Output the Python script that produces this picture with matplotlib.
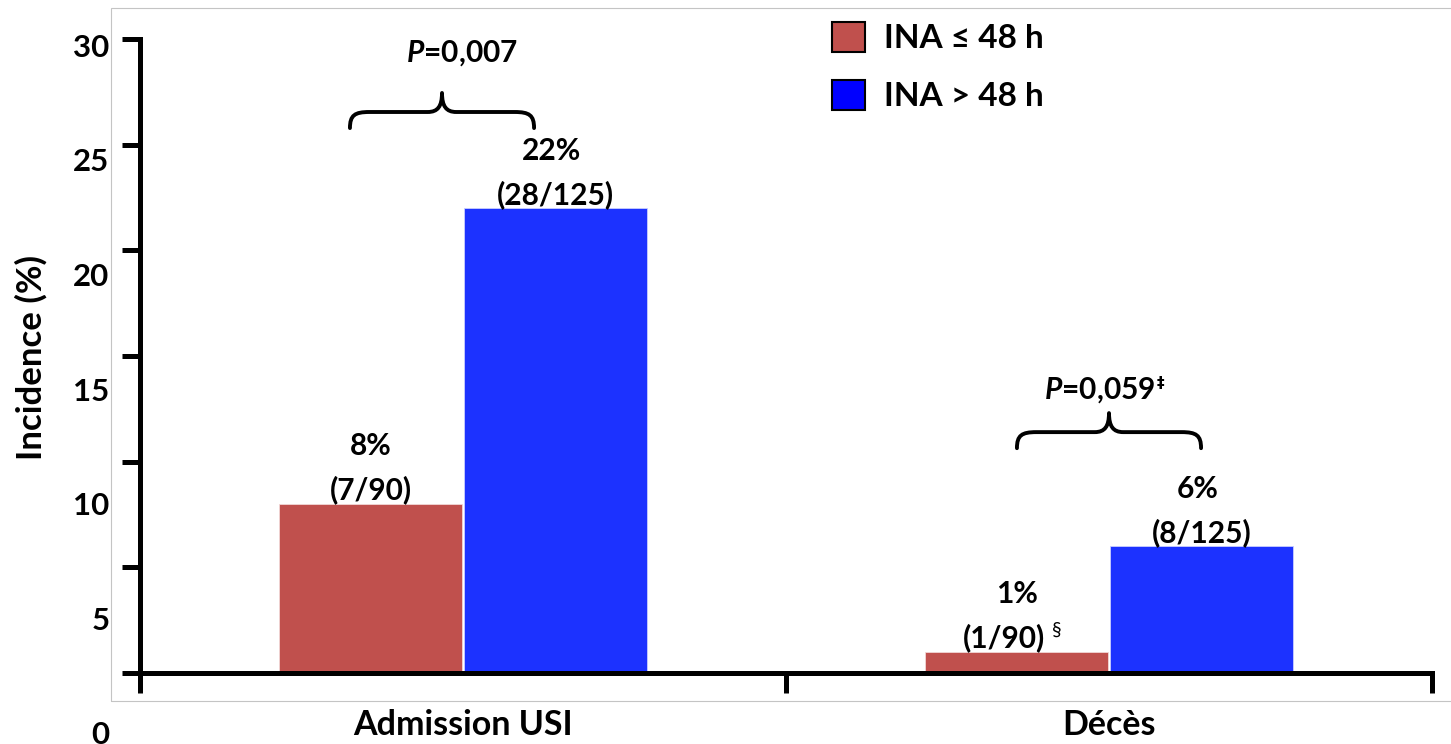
import matplotlib
matplotlib.use("Agg")
import matplotlib.pyplot as plt
from matplotlib.patches import Patch, Rectangle, PathPatch
from matplotlib.path import Path

# data
categories = ["Admission USI", "Décès"]
groups = ["INA ≤ 48 h", "INA > 48 h"]
pct_short = [8, 1]
pct_long = [22, 6]
frac_short = ["(7/90)", "(1/90)"]
frac_long = ["(28/125)", "(8/125)"]
note_short = ["", "§"]
p_values = ["0,007", "0,059"]
p_notes = ["", "‡"]
yticks = [0, 5, 10, 15, 20, 25, 30]

red = "#C0504D"
blue = "#1C32FF"
legend_blue = "#0000FF"

plt.rcParams["font.family"] = ["Lato", "DejaVu Sans"]
plt.rcParams["font.weight"] = "bold"
plt.rcParams["mathtext.fontset"] = "custom"
plt.rcParams["mathtext.it"] = "Lato:italic:bold"
plt.rcParams["mathtext.rm"] = "Lato:bold"

W, H = 1451, 744
fig = plt.figure(figsize=(W / 100, H / 100), dpi=100)

# axes placement (pixels): x=0 at 140, 646 px per category; y=0 at 673, 21.13 px per %
xs, ys = 646.0, 21.13
xlim = (0.0, 2.01)
ylim = (-3.2, 30.5)
L = 140 + xs * xlim[0]
R = 140 + xs * xlim[1]
B = 673 - ys * ylim[0]
T = 673 - ys * ylim[1]
ax = fig.add_axes([L / W, 1 - B / H, (R - L) / W, (B - T) / H])
ax.set_xlim(*xlim)
ax.set_ylim(*ylim)

# light grey frame around the plot
fig.patches.append(Rectangle((111 / W, 1 - 701 / H), 1.0, (701 - 8) / H,
                             transform=fig.transFigure, fill=False,
                             edgecolor="#C4C4C4", lw=0.8))

centers = [0.5, 1.5]
bw = 0.2833
off = 0.1432
ax.bar([c - off for c in centers], pct_short, bw, color=red, edgecolor="#F2D8D7", lw=0.6, zorder=2)
ax.bar([c + off for c in centers], pct_long, bw, color=blue, edgecolor="#C9CEFF", lw=0.6, zorder=2)

lbl_size = 21.5
for i, c in enumerate(centers):
    dx = -9 if note_short[i] else 0
    ax.annotate(f"{pct_short[i]}%", (c - off, pct_short[i]), xytext=(0, 35),
                textcoords="offset points", ha="center", va="baseline", fontsize=lbl_size)
    fr = ax.annotate(frac_short[i], (c - off, pct_short[i]), xytext=(dx, 3.2),
                     textcoords="offset points", ha="center", va="baseline", fontsize=lbl_size)
    if note_short[i]:
        ax.annotate(note_short[i], xy=(1, 0.75), xycoords=fr, xytext=(5, 0),
                    textcoords="offset points", ha="left", va="center",
                    fontsize=14, fontweight="normal")
    ax.annotate(f"{pct_long[i]}%", (c + off, pct_long[i]), xytext=(-3, 35),
                textcoords="offset points", ha="center", va="baseline", fontsize=lbl_size)
    ax.annotate(frac_long[i], (c + off, pct_long[i]), xytext=(0, 3.2),
                textcoords="offset points", ha="center", va="baseline", fontsize=lbl_size)


def brace(ax, xl, xr, y, drop=0.76, rise=0.9, r_end=0.03, r_mid=0.022):
    xm = (xl + xr) / 2
    verts = [
        (xl, y - drop),
        (xl, y - drop * 0.2), (xl + r_end * 0.25, y), (xl + r_end, y),
        (xm - r_mid, y),
        (xm - r_mid * 0.3, y), (xm, y + rise * 0.3), (xm, y + rise),
        (xm, y + rise * 0.3), (xm + r_mid * 0.3, y), (xm + r_mid, y),
        (xr - r_end, y),
        (xr - r_end * 0.25, y), (xr, y - drop * 0.2), (xr, y - drop),
    ]
    codes = [Path.MOVETO] + [Path.CURVE4] * 3 + [Path.LINETO] + [Path.CURVE4] * 6 \
        + [Path.LINETO] + [Path.CURVE4] * 3
    ax.add_patch(PathPatch(Path(verts, codes), fill=False, lw=2.8, color="black",
                           capstyle="round", joinstyle="round", zorder=3))


bracket_y = [26.55, 11.4]
bracket_mid = [0.4675, 1.50]
p_x = [0.498, 1.486]
p_y = [29.34, 13.39]
for i in range(2):
    brace(ax, bracket_mid[i] - 0.1425, bracket_mid[i] + 0.1425, bracket_y[i])
    t = ax.text(p_x[i], p_y[i], r"$\mathit{P}$=" + p_values[i],
                ha="center", va="center", fontsize=lbl_size)
    if p_notes[i]:
        ax.annotate(p_notes[i], xy=(1, 0.72), xycoords=t, xytext=(1, 0),
                    textcoords="offset points", ha="left", va="center",
                    fontsize=11, fontweight="bold", family=["DejaVu Sans"])

# spines
for s in ["top", "right"]:
    ax.spines[s].set_visible(False)
ax.spines["left"].set_bounds(0, 30)
ax.spines["bottom"].set_position(("data", 0))
ax.spines["bottom"].set_bounds(0, 2)
for s in ["left", "bottom"]:
    ax.spines[s].set_linewidth(3.6)
    ax.spines[s].set_capstyle("projecting")

ax.set_yticks(yticks)
ax.tick_params(axis="y", direction="out", length=13, width=3.6, labelleft=False)
ax.set_xticks([0, 1, 2])
ax.set_xticks(centers, minor=True)
ax.set_xticklabels(categories, minor=True, fontsize=24.5)
ax.tick_params(axis="x", which="major", direction="out", length=14.5, width=3.6, labelbottom=False)
ax.tick_params(axis="x", which="minor", length=0, pad=26)

# tick labels sit on their own (slightly stretched) scale, as in the original
k = 22.93 / ys
c0 = 60 / ys
sec = ax.secondary_yaxis("left", functions=(lambda y: (y + c0) / k, lambda v: v * k - c0))
sec.set_yticks(yticks)
sec.tick_params(length=0, pad=22, labelsize=22.5)
sec.spines["left"].set_visible(False)

fig.text(31 / W, 1 - 357 / H, "Incidence (%)", rotation=90, ha="center", va="center", fontsize=25)

handles = [Patch(facecolor=red, edgecolor="black", lw=1.5),
           Patch(facecolor=legend_blue, edgecolor="black", lw=1.5)]
fig.legend(handles, groups, loc="upper left", bbox_to_anchor=(832 / W, 1 - 22 / H),
           bbox_transform=fig.transFigure, frameon=False, fontsize=24,
           handlelength=1.0, handleheight=1.0, handletextpad=0.55,
           labelspacing=0.8, borderpad=0, borderaxespad=0)

fig.savefig("out.png", dpi=100)
